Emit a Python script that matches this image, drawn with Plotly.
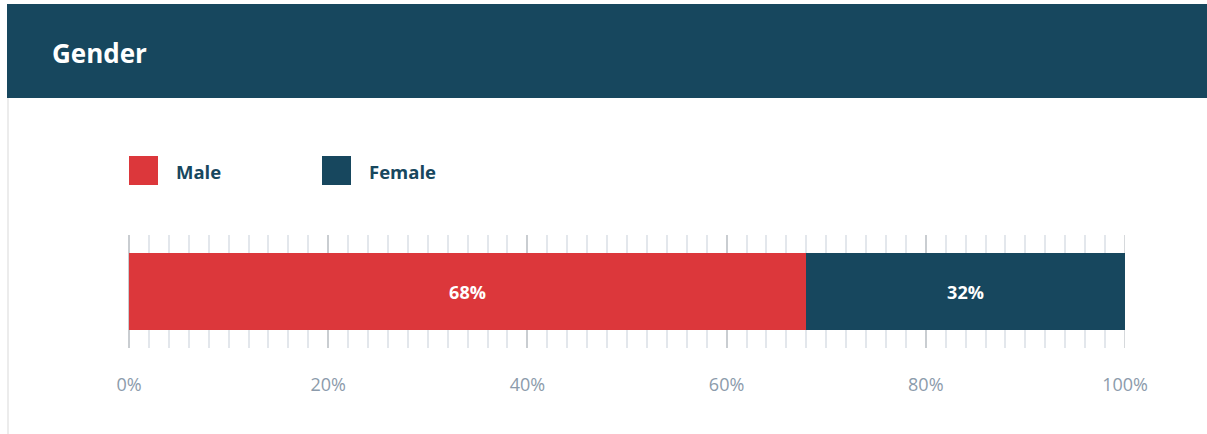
import plotly.graph_objects as go

# ---- data ----
title_text = "Gender"
categories = ["Male", "Female"]
values = [68, 32]
colors = ["#DC373B", "#17475E"]
tick_values = [0, 20, 40, 60, 80, 100]
tick_labels = ["0%", "20%", "40%", "60%", "80%", "100%"]

W, H = 1207, 434
L, R, T, B = 129, 1125, 235, 348
FONT = "Open Sans"
DARK = "#17475E"
MAJOR_GRID = "#c9cdd1"


def px(x):
    return (x - L) / (R - L)


def py(y):
    return (B - y) / (B - T)


fig = go.Figure()
for name, v, c in zip(categories, values, colors):
    fig.add_trace(go.Bar(
        x=[v], y=[""], orientation="h", name=name,
        marker=dict(color=c, line=dict(width=0)),
        width=0.68,
        texttemplate="%{x}%", textposition="inside", insidetextanchor="middle",
        textfont=dict(family=FONT, size=18, color="white", weight="bold"),
        hoverinfo="skip", showlegend=False,
    ))

shapes = [
    # header band
    dict(type="rect", xref="paper", yref="paper", x0=px(7), x1=px(1207),
         y0=py(98), y1=py(4), fillcolor=DARK, line=dict(width=0), layer="below"),
    # left border
    dict(type="line", xref="paper", yref="paper", x0=px(8), x1=px(8),
         y0=py(98), y1=py(434), line=dict(color="#ececec", width=2)),
    # end grid line (plotly drops the grid line lying on the plot edge)
    dict(type="line", xref="x", yref="paper", x0=tick_values[-1], x1=tick_values[-1],
         y0=0, y1=1, line=dict(color=MAJOR_GRID, width=1.5), layer="below"),
]
annotations = [
    dict(text=title_text, xref="paper", yref="paper", x=px(50), y=py(53),
         xanchor="left", yanchor="middle", showarrow=False,
         font=dict(family=FONT, size=26, color="white", weight="bold")),
]
leg_x = [129, 322]
for i, (name, c) in enumerate(zip(categories, colors)):
    x0 = leg_x[i]
    shapes.append(dict(type="rect", xref="paper", yref="paper",
                       x0=px(x0), x1=px(x0 + 29), y0=py(185), y1=py(156),
                       fillcolor=c, line=dict(width=0)))
    annotations.append(dict(text=name, xref="paper", yref="paper",
                            x=px(x0 + 45), y=py(171), xanchor="left", yanchor="middle",
                            showarrow=False,
                            font=dict(family=FONT, size=18.5, color=DARK, weight="bold")))

fig.update_layout(
    width=W, height=H,
    margin=dict(l=L, r=W - R, t=T, b=H - B, pad=0),
    paper_bgcolor="white", plot_bgcolor="white",
    barmode="stack", bargap=0,
    shapes=shapes, annotations=annotations,
    xaxis=dict(
        range=[0, 100], tickvals=tick_values, ticktext=tick_labels,
        showgrid=True, gridcolor=MAJOR_GRID, gridwidth=1.5,
        zeroline=True, zerolinecolor=MAJOR_GRID, zerolinewidth=1.5,
        minor=dict(dtick=2, showgrid=True, gridcolor="#e3e7ec", gridwidth=1.5),
        showline=False, ticks="",
        tickfont=dict(family=FONT, size=18, color="#8c9bab"),
        ticklabelstandoff=24, fixedrange=True,
    ),
    yaxis=dict(range=[-0.5, 0.5], showticklabels=False, showgrid=False,
               zeroline=False, fixedrange=True),
    showlegend=False,
)

fig.write_html("out.html", config={"displayModeBar": False})
